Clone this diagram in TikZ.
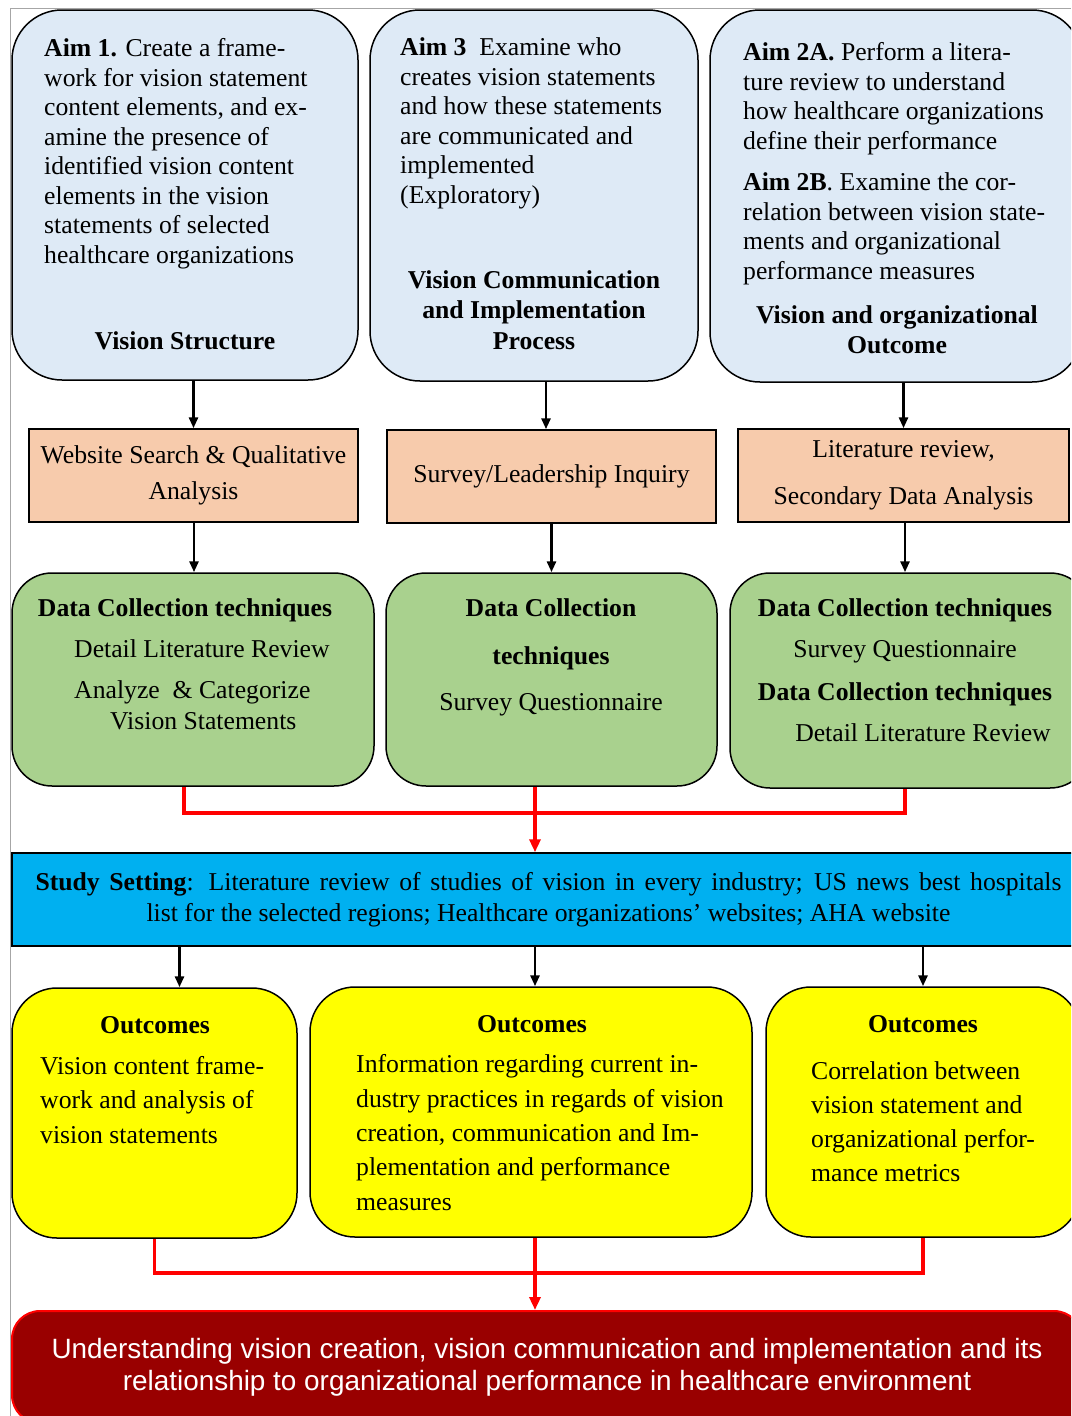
\documentclass[tikz,border=0pt]{standalone}
\usepackage{fontspec}
\setmainfont{Liberation Serif}
\newfontfamily\arialfont{Liberation Sans}
\usetikzlibrary{arrows.meta}
\definecolor{aimblue}{HTML}{DEEAF6}
\definecolor{methorange}{HTML}{F7CBAC}
\definecolor{techgreen}{HTML}{A9D18E}
\definecolor{settingcyan}{HTML}{00B0F0}
\definecolor{outyellow}{HTML}{FFFF00}
\definecolor{goalred}{HTML}{990000}
\definecolor{linkred}{HTML}{FF0000}

\begin{document}
\begin{tikzpicture}[x=1pt,y=-1pt,
  aimbox/.style = {draw, line width=1.5pt, fill=aimblue, rounded corners=50pt, inner sep=0},
  methbox/.style = {draw, line width=1.5pt, fill=methorange, inner sep=0, align=center, txt},
  techbox/.style = {draw, line width=1.5pt, fill=techgreen, rounded corners=40pt, inner sep=0},
  outbox/.style = {draw, line width=1.5pt, fill=outyellow, rounded corners=45pt, inner sep=0},
  txt/.style = {font=\fontsize{25.7}{29.5}\selectfont, inner sep=0},
  head/.style = {txt, font=\fontsize{25.7}{30.5}\selectfont\bfseries, align=center, anchor=base},
  arr/.style = {-{Triangle[length=11pt,width=9pt]}, line width=2.8pt},
  redline/.style = {draw=linkred, line width=3.5pt},
  ]
  \clip (0,0) rectangle (1071,1416);
  \draw[gray!70, line width=0.8pt] (10,1416) -- (10,8) -- (1071,8); % frame

  % aims
  \node[aimbox, minimum width=346, minimum height=370] (aim1) at (185,195) {};
  \node[aimbox, minimum width=328, minimum height=371] (aim2) at (534,195.5) {};
  \node[aimbox, minimum width=372, minimum height=372] (aim3) at (896,196) {};

  % anchor base = baseline of the last line
  \node[txt, align=left, anchor=base west] (aim1txt) at (44,263) {\textbf{Aim 1.} Create a frame-\\work for vision statement\\content elements, and ex-\\amine the presence of\\identified vision content\\elements in the vision\\statements of selected\\healthcare organizations};
  \node[head] (aim1head) at (185,349) {Vision Structure};

  \node[txt, align=left, anchor=base west] (aim2txt) at (400,203) {\textbf{Aim 3}\ \ Examine who\\creates vision statements\\and how these statements\\are communicated and\\implemented\\(Exploratory)};
  \node[head] (aim2head) at (534,349) {Vision Communication\\and Implementation\\Process};

  \node[txt, align=left, anchor=base west] (aim3txta) at (743,149) {\textbf{Aim 2A.} Perform a litera-\\ture review to understand\\how healthcare organizations\\define their performance};
  \node[txt, align=left, anchor=base west] (aim3txtb) at (743,279) {\textbf{Aim 2B}. Examine the cor-\\relation between vision state-\\ments and organizational\\performance measures};
  \node[head, font=\fontsize{25.7}{29.5}\selectfont\bfseries] (aim3head) at (897,353) {Vision and organizational\\Outcome};

  % methods
  \node[methbox, minimum width=329, minimum height=93] (meth1) at (193.5,475.5) {Website Search \& Qualitative\\[6.5pt]Analysis};
  \node[methbox, minimum width=329, minimum height=93] (meth2) at (551.5,476.5) {Survey/Leadership Inquiry};
  \node[methbox, minimum width=331, minimum height=93] (meth3) at (903.5,475.5) {Literature review,\\[17.5pt]Secondary Data Analysis};

  \draw[arr] (aim1.south -| meth1.north) -- (meth1.north);
  \draw[arr] ([xshift=-5.5pt]aim2.south -| meth2.north) -- ([xshift=-5.5pt]meth2.north);
  \draw[arr] (aim3.south -| meth3.north) -- (meth3.north);

  % data collection
  \node[techbox, minimum width=362, minimum height=213] (tech1) at (193,679.5) {};
  \node[techbox, minimum width=331, minimum height=213] (tech2) at (551.5,679.5) {};
  \node[techbox, minimum width=360, minimum height=215] (tech3) at (910,680.5) {};

  \node[head] (tech1head) at (185,616) {Data Collection techniques};
  \node[txt, align=left, anchor=base west] (tech1txt) at (74,729) {Detail Literature Review\\[11.5pt]Analyze\ \ \& Categorize\\[1.5pt]\hspace*{36pt}Vision Statements};
  \node[txt, align=center, anchor=base] (tech2txt) at (551,710) {\textbf{Data Collection}\\[18.5pt]\textbf{techniques}\\[16.5pt]Survey Questionnaire};
  \node[txt, align=center, anchor=base] (tech3txt) at (905,741) {\textbf{Data Collection techniques}\\[11.5pt]Survey Questionnaire\\[13.5pt]\textbf{Data Collection techniques}\\[11.5pt]\hspace*{36pt}Detail Literature Review};

  \draw[arr] (meth1.south -| tech1.north) ++(1,0) -- ([xshift=1pt]tech1.north);
  \draw[arr] (meth2.south) -- (tech2.north);
  \draw[arr] (meth3.south -| 905,0) -- (tech3.north -| 905,0);

  % study setting
  \node[methbox, fill=settingcyan, minimum width=1073, minimum height=93] (setting) at (548.5,899.5) {\makebox[1026pt][s]{\textbf{Study Setting}: Literature review of studies of vision in every industry; US news best hospitals}\\[1.5pt]list for the selected regions; Healthcare organizations’ websites; AHA website};

  \coordinate (join1) at (535,813);
  \draw[redline] ([xshift=-9pt]tech1.south) |- (join1) -| ([xshift=-5pt]tech3.south);
  \draw[redline, -{Triangle[length=13pt,width=11pt]}] (tech2.south -| join1) -- (setting.north -| join1);

  % outcomes
  \node[outbox, minimum width=285, minimum height=250] (out1) at (154.5,1113) {};
  \node[outbox, minimum width=442, minimum height=250] (out2) at (531,1112) {};
  \node[outbox, minimum width=314, minimum height=250] (out3) at (923,1112) {};

  \node[head] (out1head) at (155,1033) {Outcomes};
  \node[txt, align=left, anchor=base west, font=\fontsize{25.7}{34.5}\selectfont] (out1txt) at (40,1143) {Vision content frame-\\work and analysis of\\vision statements};
  \node[head] (out2head) at (532,1032) {Outcomes};
  \node[txt, align=left, anchor=base west, font=\fontsize{25.7}{34.3}\selectfont] (out2txt) at (356,1210) {Information regarding current in-\\dustry practices in regards of vision\\creation, communication and Im-\\plementation and performance\\measures};
  \node[head] (out3head) at (923,1032) {Outcomes};
  \node[txt, align=left, anchor=base west, font=\fontsize{25.7}{34}\selectfont] (out3txt) at (811,1181) {Correlation between\\vision statement and\\organizational perfor-\\mance metrics};

  \draw[arr] ([xshift=25pt]out1.north |- setting.south) -- ([xshift=25pt]out1.north);
  \draw[arr] ([xshift=4pt]out2.north |- setting.south) -- ([xshift=4pt]out2.north);
  \draw[arr] (out3.north |- setting.south) -- (out3.north);

  % goal
  \node[draw=linkred, line width=2pt, fill=goalred, rounded corners=28pt, minimum width=1070, minimum height=112,
        text=white, align=center, font=\arialfont\fontsize{27.9}{32}\selectfont] (goal) at (547,1367)
        {Understanding vision creation, vision communication and implementation and its\\relationship to organizational performance in healthcare environment};

  \coordinate (join2) at (535,1273);
  \draw[redline] (out1.south) |- (join2) -| (out3.south);
  \draw[redline, -{Triangle[length=13pt,width=11pt]}] (out2.south -| join2) -- (goal.north -| join2);

\end{tikzpicture}
\end{document}
